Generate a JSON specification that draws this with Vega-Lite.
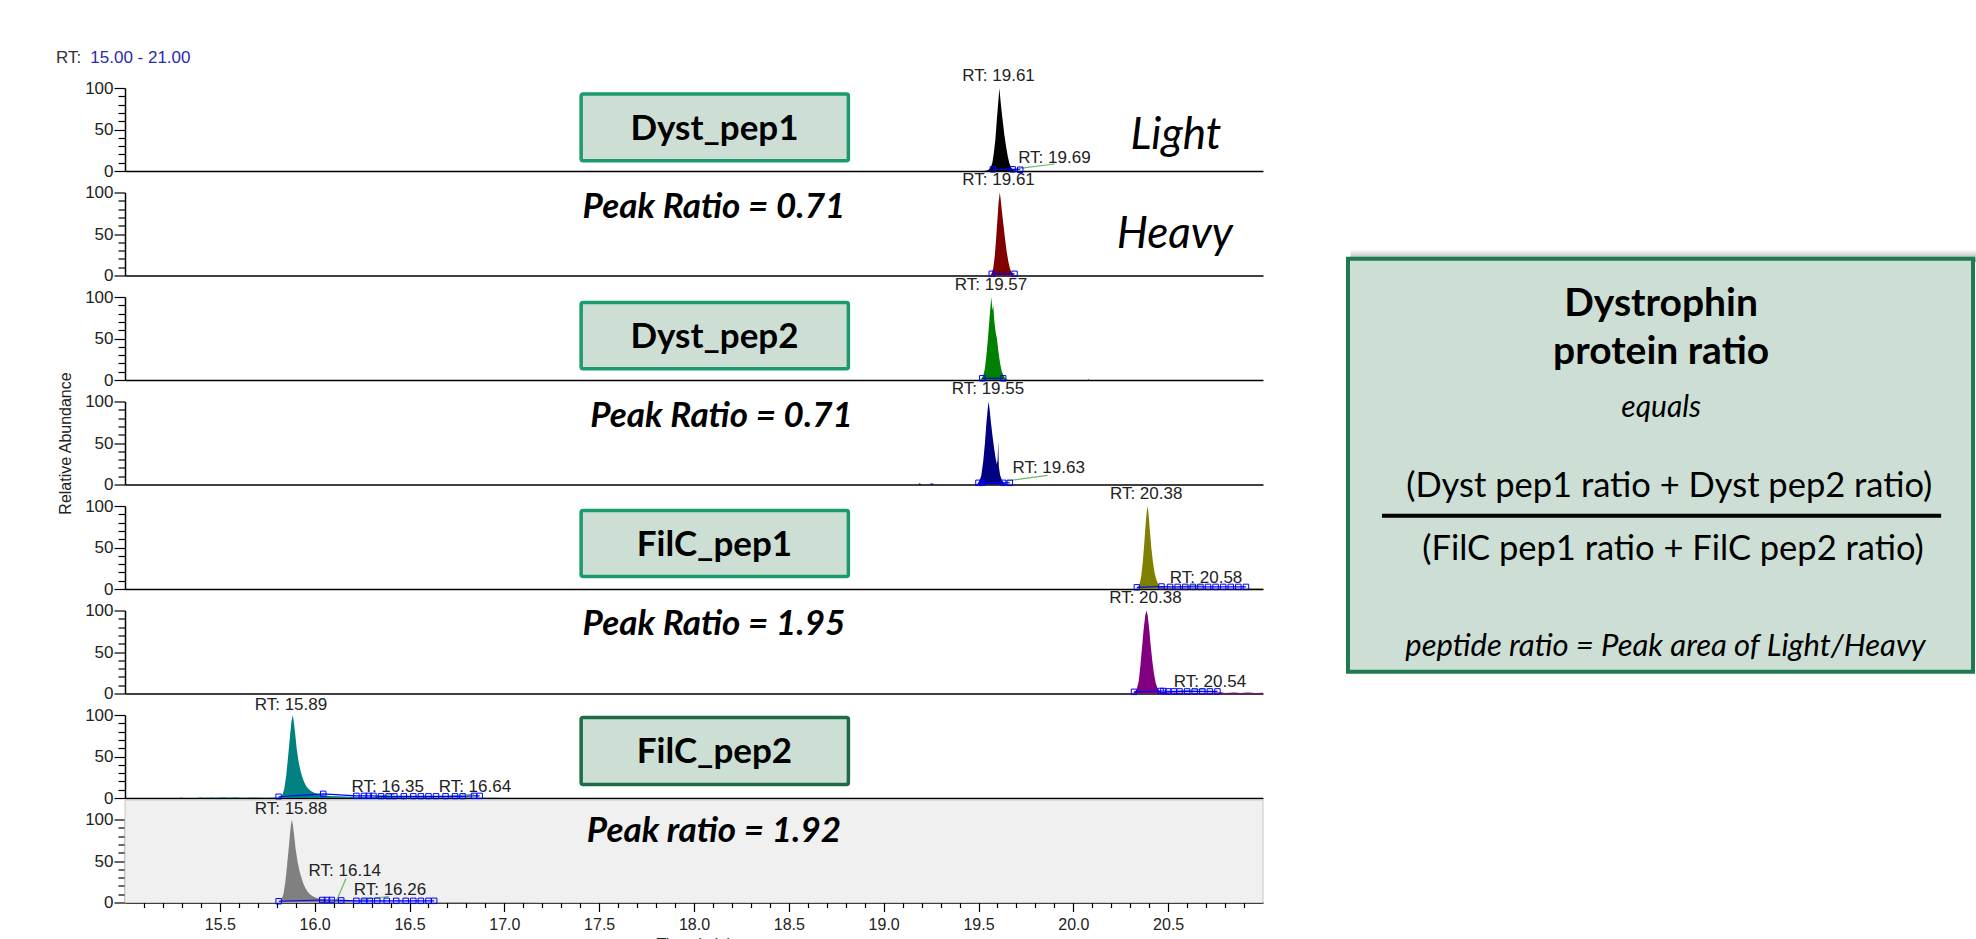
{
"$schema":"https://vega.github.io/schema/vega-lite/v6.json",
"padding":{"left":55,"top":48,"right":0,"bottom":0},
"background":"#ffffff",
"datasets":{
"tr":[
{"p":1,"t":19.53,"a":0},{"p":1,"t":19.545,"a":0.6},{"p":1,"t":19.555,"a":1.8},{"p":1,"t":19.565,"a":4.5},{"p":1,"t":19.573,"a":10},{"p":1,"t":19.581,"a":22},{"p":1,"t":19.589,"a":38},{"p":1,"t":19.595,"a":57},{"p":1,"t":19.601,"a":74},{"p":1,"t":19.606,"a":88},{"p":1,"t":19.61,"a":100},{"p":1,"t":19.614,"a":90},{"p":1,"t":19.62,"a":76},{"p":1,"t":19.628,"a":60},{"p":1,"t":19.636,"a":44},{"p":1,"t":19.645,"a":30},{"p":1,"t":19.654,"a":18},{"p":1,"t":19.662,"a":10},{"p":1,"t":19.67,"a":5},{"p":1,"t":19.678,"a":2},{"p":1,"t":19.686,"a":0.8},{"p":1,"t":19.695,"a":0.3},{"p":1,"t":19.7,"a":0.6},{"p":1,"t":19.705,"a":0},
{"p":2,"t":19.56,"a":0},{"p":2,"t":19.57,"a":2.5},{"p":2,"t":19.578,"a":9},{"p":2,"t":19.586,"a":24},{"p":2,"t":19.593,"a":45},{"p":2,"t":19.6,"a":68},{"p":2,"t":19.606,"a":88},{"p":2,"t":19.612,"a":100},{"p":2,"t":19.617,"a":92},{"p":2,"t":19.623,"a":78},{"p":2,"t":19.631,"a":62},{"p":2,"t":19.64,"a":44},{"p":2,"t":19.649,"a":28},{"p":2,"t":19.658,"a":16},{"p":2,"t":19.666,"a":8},{"p":2,"t":19.674,"a":4},{"p":2,"t":19.682,"a":1.5},{"p":2,"t":19.69,"a":0.5},{"p":2,"t":19.7,"a":0},
{"p":3,"t":19.505,"a":0},{"p":3,"t":19.515,"a":1.5},{"p":3,"t":19.525,"a":5},{"p":3,"t":19.533,"a":13},{"p":3,"t":19.541,"a":28},{"p":3,"t":19.549,"a":48},{"p":3,"t":19.556,"a":68},{"p":3,"t":19.562,"a":86},{"p":3,"t":19.568,"a":100},{"p":3,"t":19.573,"a":84},{"p":3,"t":19.578,"a":90},{"p":3,"t":19.583,"a":72},{"p":3,"t":19.59,"a":58},{"p":3,"t":19.597,"a":50},{"p":3,"t":19.605,"a":34},{"p":3,"t":19.614,"a":20},{"p":3,"t":19.623,"a":10},{"p":3,"t":19.632,"a":5},{"p":3,"t":19.641,"a":2},{"p":3,"t":19.65,"a":0.5},{"p":3,"t":19.66,"a":0},{"p":3,"t":20.076,"a":0},{"p":3,"t":20.08,"a":1.5},{"p":3,"t":20.084,"a":0},
{"p":4,"t":19.18,"a":0},{"p":4,"t":19.19,"a":1.5},{"p":4,"t":19.2,"a":0},{"p":4,"t":19.245,"a":0},{"p":4,"t":19.25,"a":2},{"p":4,"t":19.255,"a":0.5},{"p":4,"t":19.26,"a":1.5},{"p":4,"t":19.265,"a":0},{"p":4,"t":19.485,"a":0},{"p":4,"t":19.495,"a":1},{"p":4,"t":19.505,"a":4},{"p":4,"t":19.515,"a":11},{"p":4,"t":19.525,"a":28},{"p":4,"t":19.534,"a":50},{"p":4,"t":19.542,"a":75},{"p":4,"t":19.549,"a":92},{"p":4,"t":19.553,"a":100},{"p":4,"t":19.558,"a":92},{"p":4,"t":19.565,"a":76},{"p":4,"t":19.573,"a":60},{"p":4,"t":19.582,"a":44},{"p":4,"t":19.59,"a":32},{"p":4,"t":19.597,"a":24},{"p":4,"t":19.601,"a":30},{"p":4,"t":19.604,"a":52},{"p":4,"t":19.607,"a":22},{"p":4,"t":19.614,"a":11},{"p":4,"t":19.624,"a":5},{"p":4,"t":19.634,"a":2},{"p":4,"t":19.644,"a":0.8},{"p":4,"t":19.655,"a":0},
{"p":5,"t":20.325,"a":0},{"p":5,"t":20.338,"a":1.5},{"p":5,"t":20.348,"a":5},{"p":5,"t":20.357,"a":14},{"p":5,"t":20.366,"a":32},{"p":5,"t":20.374,"a":55},{"p":5,"t":20.381,"a":78},{"p":5,"t":20.387,"a":93},{"p":5,"t":20.392,"a":100},{"p":5,"t":20.397,"a":90},{"p":5,"t":20.403,"a":72},{"p":5,"t":20.411,"a":50},{"p":5,"t":20.42,"a":32},{"p":5,"t":20.429,"a":19},{"p":5,"t":20.438,"a":11},{"p":5,"t":20.447,"a":6},{"p":5,"t":20.458,"a":3},{"p":5,"t":20.48,"a":2},{"p":5,"t":20.55,"a":1.5},{"p":5,"t":20.65,"a":1.2},{"p":5,"t":20.75,"a":1},{"p":5,"t":20.85,"a":0.8},{"p":5,"t":20.95,"a":0.6},{"p":5,"t":21,"a":0.5},
{"p":6,"t":20.305,"a":0},{"p":6,"t":20.322,"a":1.5},{"p":6,"t":20.334,"a":5},{"p":6,"t":20.344,"a":14},{"p":6,"t":20.353,"a":32},{"p":6,"t":20.362,"a":55},{"p":6,"t":20.371,"a":78},{"p":6,"t":20.379,"a":94},{"p":6,"t":20.386,"a":100},{"p":6,"t":20.392,"a":94},{"p":6,"t":20.399,"a":80},{"p":6,"t":20.407,"a":60},{"p":6,"t":20.416,"a":40},{"p":6,"t":20.425,"a":24},{"p":6,"t":20.434,"a":13},{"p":6,"t":20.443,"a":7},{"p":6,"t":20.452,"a":3.5},{"p":6,"t":20.465,"a":2},{"p":6,"t":20.5,"a":1.5},{"p":6,"t":20.6,"a":1},{"p":6,"t":20.7,"a":0.8},{"p":6,"t":20.78,"a":1.5},{"p":6,"t":20.8,"a":0.6},{"p":6,"t":20.85,"a":1.2},{"p":6,"t":20.88,"a":0.5},{"p":6,"t":20.92,"a":1.2},{"p":6,"t":20.96,"a":0.5},{"p":6,"t":21,"a":0.8},
{"p":7,"t":15.28,"a":0},{"p":7,"t":15.3,"a":0.6},{"p":7,"t":15.31,"a":0},{"p":7,"t":15.38,"a":0},{"p":7,"t":15.4,"a":0.8},{"p":7,"t":15.41,"a":0.2},{"p":7,"t":15.46,"a":0.6},{"p":7,"t":15.48,"a":0.2},{"p":7,"t":15.52,"a":0.9},{"p":7,"t":15.55,"a":0.4},{"p":7,"t":15.58,"a":0.8},{"p":7,"t":15.62,"a":0.3},{"p":7,"t":15.68,"a":0.6},{"p":7,"t":15.74,"a":0.4},{"p":7,"t":15.8,"a":0.5},{"p":7,"t":15.82,"a":1.5},{"p":7,"t":15.83,"a":4},{"p":7,"t":15.84,"a":11},{"p":7,"t":15.85,"a":27},{"p":7,"t":15.86,"a":50},{"p":7,"t":15.87,"a":75},{"p":7,"t":15.878,"a":93},{"p":7,"t":15.885,"a":100},{"p":7,"t":15.89,"a":92},{"p":7,"t":15.897,"a":78},{"p":7,"t":15.905,"a":60},{"p":7,"t":15.915,"a":44},{"p":7,"t":15.925,"a":33},{"p":7,"t":15.935,"a":25},{"p":7,"t":15.945,"a":19},{"p":7,"t":15.955,"a":14.5},{"p":7,"t":15.965,"a":11.5},{"p":7,"t":15.98,"a":8.5},{"p":7,"t":16,"a":6},{"p":7,"t":16.02,"a":4.5},{"p":7,"t":16.05,"a":3.2},{"p":7,"t":16.08,"a":2.5},{"p":7,"t":16.12,"a":2},{"p":7,"t":16.2,"a":1.6},{"p":7,"t":16.3,"a":1.3},{"p":7,"t":16.4,"a":1.1},{"p":7,"t":16.5,"a":1},{"p":7,"t":16.6,"a":0.8},{"p":7,"t":16.7,"a":0.7},{"p":7,"t":16.8,"a":0.5},{"p":7,"t":16.9,"a":0.4},{"p":7,"t":16.96,"a":0.3},{"p":7,"t":17,"a":0},
{"p":8,"t":15.8,"a":0},{"p":8,"t":15.815,"a":1},{"p":8,"t":15.825,"a":3.5},{"p":8,"t":15.835,"a":10},{"p":8,"t":15.845,"a":24},{"p":8,"t":15.855,"a":46},{"p":8,"t":15.865,"a":70},{"p":8,"t":15.873,"a":90},{"p":8,"t":15.879,"a":100},{"p":8,"t":15.885,"a":94},{"p":8,"t":15.892,"a":80},{"p":8,"t":15.9,"a":64},{"p":8,"t":15.91,"a":49},{"p":8,"t":15.92,"a":38},{"p":8,"t":15.93,"a":30},{"p":8,"t":15.94,"a":23},{"p":8,"t":15.95,"a":18},{"p":8,"t":15.96,"a":14},{"p":8,"t":15.975,"a":10},{"p":8,"t":15.99,"a":7.5},{"p":8,"t":16.01,"a":5.5},{"p":8,"t":16.04,"a":4},{"p":8,"t":16.07,"a":3},{"p":8,"t":16.1,"a":2.4},{"p":8,"t":16.15,"a":1.8},{"p":8,"t":16.2,"a":1.5},{"p":8,"t":16.3,"a":1.2},{"p":8,"t":16.4,"a":1},{"p":8,"t":16.5,"a":0.9},{"p":8,"t":16.6,"a":0.7},{"p":8,"t":16.7,"a":0.6},{"p":8,"t":16.8,"a":0.5},{"p":8,"t":16.9,"a":0.4},{"p":8,"t":17,"a":0.3},{"p":8,"t":17.1,"a":0.2},{"p":8,"t":17.2,"a":0}
],
"mk":[
{"p":1,"t":19.576,"a":2},{"p":1,"t":19.68,"a":2},{"p":1,"t":19.72,"a":1.5},
{"p":2,"t":19.57,"a":2},{"p":2,"t":19.69,"a":2},
{"p":3,"t":19.52,"a":2},{"p":3,"t":19.63,"a":2},
{"p":4,"t":19.5,"a":2},{"p":4,"t":19.52,"a":2},{"p":4,"t":19.63,"a":2},{"p":4,"t":19.665,"a":2},
{"p":5,"t":20.335,"a":2},{"p":5,"t":20.465,"a":3},{"p":5,"t":20.51,"a":2.5},{"p":5,"t":20.55,"a":2.5},{"p":5,"t":20.59,"a":2.5},{"p":5,"t":20.63,"a":2.5},{"p":5,"t":20.67,"a":2.5},{"p":5,"t":20.71,"a":2.5},{"p":5,"t":20.75,"a":2.5},{"p":5,"t":20.79,"a":2.5},{"p":5,"t":20.83,"a":2.5},{"p":5,"t":20.87,"a":2.5},{"p":5,"t":20.91,"a":2.5},
{"p":6,"t":20.32,"a":2},{"p":6,"t":20.46,"a":3},{"p":6,"t":20.475,"a":3},{"p":6,"t":20.5,"a":2.5},{"p":6,"t":20.53,"a":2.5},{"p":6,"t":20.56,"a":2.5},{"p":6,"t":20.6,"a":2.5},{"p":6,"t":20.64,"a":2.5},{"p":6,"t":20.68,"a":2.5},{"p":6,"t":20.72,"a":2.5},{"p":6,"t":20.76,"a":2.5},
{"p":7,"t":15.81,"a":1.5},{"p":7,"t":16.045,"a":5},{"p":7,"t":16.22,"a":2.5},{"p":7,"t":16.26,"a":2.5},{"p":7,"t":16.285,"a":2.5},{"p":7,"t":16.31,"a":2.5},{"p":7,"t":16.35,"a":2},{"p":7,"t":16.39,"a":2},{"p":7,"t":16.42,"a":2},{"p":7,"t":16.47,"a":2},{"p":7,"t":16.52,"a":2},{"p":7,"t":16.56,"a":2},{"p":7,"t":16.6,"a":2},{"p":7,"t":16.64,"a":2},{"p":7,"t":16.69,"a":2},{"p":7,"t":16.74,"a":2},{"p":7,"t":16.78,"a":2},{"p":7,"t":16.84,"a":2.5},{"p":7,"t":16.87,"a":2.5},
{"p":8,"t":15.81,"a":1.5},{"p":8,"t":16.04,"a":3},{"p":8,"t":16.065,"a":3},{"p":8,"t":16.09,"a":3},{"p":8,"t":16.14,"a":2.5},{"p":8,"t":16.22,"a":2},{"p":8,"t":16.26,"a":2},{"p":8,"t":16.29,"a":2},{"p":8,"t":16.33,"a":2},{"p":8,"t":16.38,"a":2},{"p":8,"t":16.43,"a":2},{"p":8,"t":16.48,"a":2},{"p":8,"t":16.52,"a":2},{"p":8,"t":16.56,"a":2},{"p":8,"t":16.6,"a":2},{"p":8,"t":16.63,"a":2}
],
"gl":[
{"p":1,"g":1,"t":19.69,"a":2.4},{"p":1,"g":1,"t":19.9,"a":8.4},
{"p":4,"g":1,"t":19.64,"a":4},{"p":4,"g":1,"t":19.865,"a":11},
{"p":5,"g":1,"t":20.55,"a":2.5},{"p":5,"g":1,"t":20.68,"a":5},
{"p":6,"g":1,"t":20.55,"a":2.5},{"p":6,"g":1,"t":20.7,"a":5.5},
{"p":7,"g":1,"t":16.33,"a":2},{"p":7,"g":1,"t":16.42,"a":4.6},
{"p":7,"g":2,"t":16.7,"a":2},{"p":7,"g":2,"t":16.84,"a":4.6},
{"p":8,"g":1,"t":16.117,"a":3},{"p":8,"g":1,"t":16.165,"a":29},
{"p":8,"g":2,"t":16.245,"a":3.5},{"p":8,"g":2,"t":16.39,"a":7}
],
"rt":[
{"p":1,"t":19.606,"a":108.5,"label":"RT: 19.61"},
{"p":1,"t":19.9,"a":10,"label":"RT: 19.69"},
{"p":2,"t":19.606,"a":108.5,"label":"RT: 19.61"},
{"p":3,"t":19.566,"a":108.5,"label":"RT: 19.57"},
{"p":4,"t":19.55,"a":108.5,"label":"RT: 19.55"},
{"p":4,"t":19.87,"a":13.5,"label":"RT: 19.63"},
{"p":5,"t":20.384,"a":108.5,"label":"RT: 20.38"},
{"p":5,"t":20.7,"a":7.7,"label":"RT: 20.58"},
{"p":6,"t":20.38,"a":108.5,"label":"RT: 20.38"},
{"p":6,"t":20.72,"a":8.3,"label":"RT: 20.54"},
{"p":7,"t":15.875,"a":106.5,"label":"RT: 15.89"},
{"p":7,"t":16.385,"a":7.8,"label":"RT: 16.35"},
{"p":7,"t":16.845,"a":7.8,"label":"RT: 16.64"},
{"p":8,"t":15.875,"a":107,"label":"RT: 15.88"},
{"p":8,"t":16.159,"a":32.5,"label":"RT: 16.14"},
{"p":8,"t":16.397,"a":9.3,"label":"RT: 16.26"}
],
"bx":[
{"p":1,"t":17.405,"t2":18.814,"a":12.4,"a2":92.8},
{"p":3,"t":17.405,"t2":18.814,"a":13.7,"a2":93.3},
{"p":5,"t":17.405,"t2":18.814,"a":15,"a2":94.5},
{"p":7,"t":17.405,"t2":18.814,"a":16.3,"a2":97}
],
"an":[
{"p":1,"k":"box","t":18.108,"a":37.6,"label":"Dyst_pep1"},
{"p":3,"k":"box","t":18.108,"a":38.5,"label":"Dyst_pep2"},
{"p":5,"k":"box","t":18.108,"a":39.7,"label":"FilC_pep1"},
{"p":7,"k":"box","t":18.108,"a":41.6,"label":"FilC_pep2"},
{"p":2,"k":"ratio","t":18.105,"a":68.8,"label":"Peak Ratio = 0.71"},
{"p":4,"k":"ratio","t":18.145,"a":68.7,"label":"Peak Ratio = 0.71"},
{"p":6,"k":"ratio","t":18.105,"a":70,"label":"Peak Ratio = 1.95"},
{"p":8,"k":"ratio","t":18.105,"a":72.5,"label":"Peak ratio  = 1.92"},
{"p":1,"k":"lh","t":20.541,"a":26.5,"label":"Light"},
{"p":2,"k":"lh","t":20.535,"a":32.6,"label":"Heavy"}
],
"hd":[
{"t":14.636,"a":130.5,"label":"RT:"},
{"t":14.817,"a":130.5,"label":"15.00 - 21.00"}
],
"bg":[{"t":15,"t2":21,"a":0,"a2":123.5}],
"fb":[
{"k":"shadow","t":0.4,"t2":100.6,"a":70.5,"a2":72.6},
{"k":"box","t":0,"t2":100,"a":1.07,"a2":71.07}
],
"ru":[{"t":5.44,"t2":94.9,"a":27.51}],
"ft":[
{"k":"ti","t":50.1,"a":61.3,"label":"Dystrophin"},
{"k":"ti","t":50.1,"a":53.15,"label":"protein ratio"},
{"k":"eq","t":50.1,"a":44.29,"label":"equals"},
{"k":"fr","t":51.4,"a":30.73,"label":"(Dyst pep1 ratio + Dyst pep2 ratio)"},
{"k":"fr","t":52,"a":20.05,"label":"(FilC pep1 ratio + FilC pep2 ratio)"},
{"k":"no","t":50.8,"a":3.8,"label":"peptide ratio =  Peak area of Light/Heavy"}
]
},
"hconcat":[
{"vconcat":[
{"width":1138,"height":83,
"encoding":{"x":{"field":"t","type":"quantitative","scale":{"domain":[15,21],"nice":false,"zero":false},"axis":{"labels":false,"ticks":false,"title":null}},
"y":{"field":"a","type":"quantitative","scale":{"domain":[0,100],"nice":false,"zero":false},"axis":{"values":[0,10,20,30,40,50,60,70,80,90,100],"labelExpr":"datum.value % 50 === 0 ? datum.label : ''","tickSize":{"condition":{"test":"datum.value % 50 === 0","value":11},"value":7},"title":null}}},
"layer":[
{"data":{"name":"tr"},"transform":[{"filter":"datum.p===1"}],"mark":{"type":"area","color":"#000000","interpolate":"linear"},"encoding":{}},
{"data":{"name":"gl"},"transform":[{"filter":"datum.p===1"}],"mark":{"type":"line","color":"#66bb66","strokeWidth":1.2},"encoding":{"detail":{"field":"g","type":"nominal"}}},
{"data":{"name":"mk"},"transform":[{"filter":"datum.p===1"}],"mark":{"type":"line","color":"#0000ff","strokeWidth":1.2},"encoding":{}},
{"data":{"name":"mk"},"transform":[{"filter":"datum.p===1"}],"mark":{"type":"point","shape":"square","filled":false,"color":"#0000ff","strokeWidth":1,"size":30,"opacity":1},"encoding":{}},
{"data":{"name":"rt"},"transform":[{"filter":"datum.p===1"}],"mark":{"type":"text","font":"Liberation Sans","fontSize":17,"color":"#222222","align":"center","baseline":"alphabetic"},"encoding":{"text":{"field":"label"}}},
{"data":{"name":"bx"},"transform":[{"filter":"datum.p===1"}],"mark":{"type":"rect","fill":"#cddfd5","stroke":"#1a9b6a","strokeWidth":3.5,"cornerRadius":2},"encoding":{"x2":{"field":"t2"},"y2":{"field":"a2"}}},
{"data":{"name":"an"},"transform":[{"filter":"datum.p===1 && datum.k==='box'"}],"mark":{"type":"text","font":"Lato","fontWeight":"bold","fontSize":35,"color":"#000000","align":"center","baseline":"alphabetic"},"encoding":{"text":{"field":"label"}}},
{"data":{"name":"an"},"transform":[{"filter":"datum.p===1 && datum.k==='lh'"}],"mark":{"type":"text","font":"Lato","fontStyle":"italic","fontSize":44,"color":"#000000","align":"center","baseline":"alphabetic"},"encoding":{"text":{"field":"label"}}},
{"data":{"name":"hd"},"mark":{"type":"text","font":"Liberation Sans","fontSize":17,"align":"left","baseline":"alphabetic"},"encoding":{"text":{"field":"label"},"color":{"condition":{"test":"datum.label==='RT:'","value":"#333333"},"value":"#2a2ab4"}}}
]},
{"width":1138,"height":83,
"encoding":{"x":{"field":"t","type":"quantitative","scale":{"domain":[15,21],"nice":false,"zero":false},"axis":{"labels":false,"ticks":false,"title":null}},
"y":{"field":"a","type":"quantitative","scale":{"domain":[0,100],"nice":false,"zero":false},"axis":{"values":[0,10,20,30,40,50,60,70,80,90,100],"labelExpr":"datum.value % 50 === 0 ? datum.label : ''","tickSize":{"condition":{"test":"datum.value % 50 === 0","value":11},"value":7},"title":null}}},
"layer":[
{"data":{"name":"tr"},"transform":[{"filter":"datum.p===2"}],"mark":{"type":"area","color":"#800000","interpolate":"linear"},"encoding":{}},
{"data":{"name":"mk"},"transform":[{"filter":"datum.p===2"}],"mark":{"type":"line","color":"#0000ff","strokeWidth":1.2},"encoding":{}},
{"data":{"name":"mk"},"transform":[{"filter":"datum.p===2"}],"mark":{"type":"point","shape":"square","filled":false,"color":"#0000ff","strokeWidth":1,"size":30,"opacity":1},"encoding":{}},
{"data":{"name":"rt"},"transform":[{"filter":"datum.p===2"}],"mark":{"type":"text","font":"Liberation Sans","fontSize":17,"color":"#222222","align":"center","baseline":"alphabetic"},"encoding":{"text":{"field":"label"}}},
{"data":{"name":"an"},"transform":[{"filter":"datum.p===2 && datum.k==='ratio'"}],"mark":{"type":"text","font":"Lato","fontWeight":"bold","fontStyle":"italic","fontSize":35,"color":"#000000","align":"center","baseline":"alphabetic"},"encoding":{"text":{"field":"label"}}},
{"data":{"name":"an"},"transform":[{"filter":"datum.p===2 && datum.k==='lh'"}],"mark":{"type":"text","font":"Lato","fontStyle":"italic","fontSize":44,"color":"#000000","align":"center","baseline":"alphabetic"},"encoding":{"text":{"field":"label"}}}
]},
{"width":1138,"height":83,
"encoding":{"x":{"field":"t","type":"quantitative","scale":{"domain":[15,21],"nice":false,"zero":false},"axis":{"labels":false,"ticks":false,"title":null}},
"y":{"field":"a","type":"quantitative","scale":{"domain":[0,100],"nice":false,"zero":false},"axis":{"values":[0,10,20,30,40,50,60,70,80,90,100],"labelExpr":"datum.value % 50 === 0 ? datum.label : ''","tickSize":{"condition":{"test":"datum.value % 50 === 0","value":11},"value":7},"title":null}}},
"layer":[
{"data":{"name":"tr"},"transform":[{"filter":"datum.p===3"}],"mark":{"type":"area","color":"#008000","interpolate":"linear"},"encoding":{}},
{"data":{"name":"mk"},"transform":[{"filter":"datum.p===3"}],"mark":{"type":"line","color":"#0000ff","strokeWidth":1.2},"encoding":{}},
{"data":{"name":"mk"},"transform":[{"filter":"datum.p===3"}],"mark":{"type":"point","shape":"square","filled":false,"color":"#0000ff","strokeWidth":1,"size":30,"opacity":1},"encoding":{}},
{"data":{"name":"rt"},"transform":[{"filter":"datum.p===3"}],"mark":{"type":"text","font":"Liberation Sans","fontSize":17,"color":"#222222","align":"center","baseline":"alphabetic"},"encoding":{"text":{"field":"label"}}},
{"data":{"name":"bx"},"transform":[{"filter":"datum.p===3"}],"mark":{"type":"rect","fill":"#cddfd5","stroke":"#1a9b6a","strokeWidth":3.5,"cornerRadius":2},"encoding":{"x2":{"field":"t2"},"y2":{"field":"a2"}}},
{"data":{"name":"an"},"transform":[{"filter":"datum.p===3 && datum.k==='box'"}],"mark":{"type":"text","font":"Lato","fontWeight":"bold","fontSize":35,"color":"#000000","align":"center","baseline":"alphabetic"},"encoding":{"text":{"field":"label"}}}
]},
{"width":1138,"height":83,
"encoding":{"x":{"field":"t","type":"quantitative","scale":{"domain":[15,21],"nice":false,"zero":false},"axis":{"labels":false,"ticks":false,"title":null}},
"y":{"field":"a","type":"quantitative","scale":{"domain":[0,100],"nice":false,"zero":false},"axis":{"values":[0,10,20,30,40,50,60,70,80,90,100],"labelExpr":"datum.value % 50 === 0 ? datum.label : ''","tickSize":{"condition":{"test":"datum.value % 50 === 0","value":11},"value":7},"title":"Relative Abundance","titlePadding":11}}},
"layer":[
{"data":{"name":"tr"},"transform":[{"filter":"datum.p===4"}],"mark":{"type":"area","color":"#000080","interpolate":"linear"},"encoding":{}},
{"data":{"name":"gl"},"transform":[{"filter":"datum.p===4"}],"mark":{"type":"line","color":"#66bb66","strokeWidth":1.2},"encoding":{"detail":{"field":"g","type":"nominal"}}},
{"data":{"name":"mk"},"transform":[{"filter":"datum.p===4"}],"mark":{"type":"line","color":"#0000ff","strokeWidth":1.2},"encoding":{}},
{"data":{"name":"mk"},"transform":[{"filter":"datum.p===4"}],"mark":{"type":"point","shape":"square","filled":false,"color":"#0000ff","strokeWidth":1,"size":30,"opacity":1},"encoding":{}},
{"data":{"name":"rt"},"transform":[{"filter":"datum.p===4"}],"mark":{"type":"text","font":"Liberation Sans","fontSize":17,"color":"#222222","align":"center","baseline":"alphabetic"},"encoding":{"text":{"field":"label"}}},
{"data":{"name":"an"},"transform":[{"filter":"datum.p===4 && datum.k==='ratio'"}],"mark":{"type":"text","font":"Lato","fontWeight":"bold","fontStyle":"italic","fontSize":35,"color":"#000000","align":"center","baseline":"alphabetic"},"encoding":{"text":{"field":"label"}}}
]},
{"width":1138,"height":83,
"encoding":{"x":{"field":"t","type":"quantitative","scale":{"domain":[15,21],"nice":false,"zero":false},"axis":{"labels":false,"ticks":false,"title":null}},
"y":{"field":"a","type":"quantitative","scale":{"domain":[0,100],"nice":false,"zero":false},"axis":{"values":[0,10,20,30,40,50,60,70,80,90,100],"labelExpr":"datum.value % 50 === 0 ? datum.label : ''","tickSize":{"condition":{"test":"datum.value % 50 === 0","value":11},"value":7},"title":null}}},
"layer":[
{"data":{"name":"tr"},"transform":[{"filter":"datum.p===5"}],"mark":{"type":"area","color":"#808000","interpolate":"linear"},"encoding":{}},
{"data":{"name":"gl"},"transform":[{"filter":"datum.p===5"}],"mark":{"type":"line","color":"#66bb66","strokeWidth":1.2},"encoding":{"detail":{"field":"g","type":"nominal"}}},
{"data":{"name":"mk"},"transform":[{"filter":"datum.p===5"}],"mark":{"type":"line","color":"#0000ff","strokeWidth":1.2},"encoding":{}},
{"data":{"name":"mk"},"transform":[{"filter":"datum.p===5"}],"mark":{"type":"point","shape":"square","filled":false,"color":"#0000ff","strokeWidth":1,"size":30,"opacity":1},"encoding":{}},
{"data":{"name":"rt"},"transform":[{"filter":"datum.p===5"}],"mark":{"type":"text","font":"Liberation Sans","fontSize":17,"color":"#222222","align":"center","baseline":"alphabetic"},"encoding":{"text":{"field":"label"}}},
{"data":{"name":"bx"},"transform":[{"filter":"datum.p===5"}],"mark":{"type":"rect","fill":"#cddfd5","stroke":"#1a9b6a","strokeWidth":3.5,"cornerRadius":2},"encoding":{"x2":{"field":"t2"},"y2":{"field":"a2"}}},
{"data":{"name":"an"},"transform":[{"filter":"datum.p===5 && datum.k==='box'"}],"mark":{"type":"text","font":"Lato","fontWeight":"bold","fontSize":35,"color":"#000000","align":"center","baseline":"alphabetic"},"encoding":{"text":{"field":"label"}}}
]},
{"width":1138,"height":83,
"encoding":{"x":{"field":"t","type":"quantitative","scale":{"domain":[15,21],"nice":false,"zero":false},"axis":{"labels":false,"ticks":false,"title":null}},
"y":{"field":"a","type":"quantitative","scale":{"domain":[0,100],"nice":false,"zero":false},"axis":{"values":[0,10,20,30,40,50,60,70,80,90,100],"labelExpr":"datum.value % 50 === 0 ? datum.label : ''","tickSize":{"condition":{"test":"datum.value % 50 === 0","value":11},"value":7},"title":null}}},
"layer":[
{"data":{"name":"tr"},"transform":[{"filter":"datum.p===6"}],"mark":{"type":"area","color":"#800080","interpolate":"linear"},"encoding":{}},
{"data":{"name":"gl"},"transform":[{"filter":"datum.p===6"}],"mark":{"type":"line","color":"#66bb66","strokeWidth":1.2},"encoding":{"detail":{"field":"g","type":"nominal"}}},
{"data":{"name":"mk"},"transform":[{"filter":"datum.p===6"}],"mark":{"type":"line","color":"#0000ff","strokeWidth":1.2},"encoding":{}},
{"data":{"name":"mk"},"transform":[{"filter":"datum.p===6"}],"mark":{"type":"point","shape":"square","filled":false,"color":"#0000ff","strokeWidth":1,"size":30,"opacity":1},"encoding":{}},
{"data":{"name":"rt"},"transform":[{"filter":"datum.p===6"}],"mark":{"type":"text","font":"Liberation Sans","fontSize":17,"color":"#222222","align":"center","baseline":"alphabetic"},"encoding":{"text":{"field":"label"}}},
{"data":{"name":"an"},"transform":[{"filter":"datum.p===6 && datum.k==='ratio'"}],"mark":{"type":"text","font":"Lato","fontWeight":"bold","fontStyle":"italic","fontSize":35,"color":"#000000","align":"center","baseline":"alphabetic"},"encoding":{"text":{"field":"label"}}}
]},
{"width":1138,"height":83,
"encoding":{"x":{"field":"t","type":"quantitative","scale":{"domain":[15,21],"nice":false,"zero":false},"axis":{"labels":false,"ticks":false,"title":null}},
"y":{"field":"a","type":"quantitative","scale":{"domain":[0,100],"nice":false,"zero":false},"axis":{"values":[0,10,20,30,40,50,60,70,80,90,100],"labelExpr":"datum.value % 50 === 0 ? datum.label : ''","tickSize":{"condition":{"test":"datum.value % 50 === 0","value":11},"value":7},"title":null}}},
"layer":[
{"data":{"name":"tr"},"transform":[{"filter":"datum.p===7"}],"mark":{"type":"area","color":"#008080","interpolate":"linear"},"encoding":{}},
{"data":{"name":"gl"},"transform":[{"filter":"datum.p===7"}],"mark":{"type":"line","color":"#66bb66","strokeWidth":1.2},"encoding":{"detail":{"field":"g","type":"nominal"}}},
{"data":{"name":"mk"},"transform":[{"filter":"datum.p===7"}],"mark":{"type":"line","color":"#0000ff","strokeWidth":1.2},"encoding":{}},
{"data":{"name":"mk"},"transform":[{"filter":"datum.p===7"}],"mark":{"type":"point","shape":"square","filled":false,"color":"#0000ff","strokeWidth":1,"size":30,"opacity":1},"encoding":{}},
{"data":{"name":"rt"},"transform":[{"filter":"datum.p===7"}],"mark":{"type":"text","font":"Liberation Sans","fontSize":17,"color":"#222222","align":"center","baseline":"alphabetic"},"encoding":{"text":{"field":"label"}}},
{"data":{"name":"bx"},"transform":[{"filter":"datum.p===7"}],"mark":{"type":"rect","fill":"#cddfd5","stroke":"#1e6b48","strokeWidth":3.5,"cornerRadius":2},"encoding":{"x2":{"field":"t2"},"y2":{"field":"a2"}}},
{"data":{"name":"an"},"transform":[{"filter":"datum.p===7 && datum.k==='box'"}],"mark":{"type":"text","font":"Lato","fontWeight":"bold","fontSize":35,"color":"#000000","align":"center","baseline":"alphabetic"},"encoding":{"text":{"field":"label"}}}
]},
{"width":1138,"height":83,
"encoding":{"x":{"field":"t","type":"quantitative","scale":{"domain":[15,21],"nice":false,"zero":false},"axis":{"values":[15.1,15.2,15.3,15.4,15.5,15.6,15.7,15.8,15.9,16,16.1,16.2,16.3,16.4,16.5,16.6,16.7,16.8,16.9,17,17.1,17.2,17.3,17.4,17.5,17.6,17.7,17.8,17.9,18,18.1,18.2,18.3,18.4,18.5,18.6,18.7,18.8,18.9,19,19.1,19.2,19.3,19.4,19.5,19.6,19.7,19.8,19.9,20,20.1,20.2,20.3,20.4,20.5,20.6,20.7,20.8,20.9],"format":".1f","labelExpr":"abs(datum.value*2-round(datum.value*2))<0.01 ? datum.label : ''","tickSize":{"condition":{"test":"abs(datum.value*2-round(datum.value*2))<0.01","value":9},"value":5},"title":"Time (min)","titlePadding":4}},
"y":{"field":"a","type":"quantitative","scale":{"domain":[0,100],"nice":false,"zero":false},"axis":{"values":[0,10,20,30,40,50,60,70,80,90,100],"labelExpr":"datum.value % 50 === 0 ? datum.label : ''","tickSize":{"condition":{"test":"datum.value % 50 === 0","value":11},"value":7},"title":null}}},
"layer":[
{"data":{"name":"bg"},"mark":{"type":"rect","fill":"#f0f0f0","stroke":"#c8c8c8","strokeWidth":1},"encoding":{"x2":{"field":"t2"},"y2":{"field":"a2"}}},
{"data":{"name":"tr"},"transform":[{"filter":"datum.p===8"}],"mark":{"type":"area","color":"#808080","interpolate":"linear"},"encoding":{}},
{"data":{"name":"gl"},"transform":[{"filter":"datum.p===8"}],"mark":{"type":"line","color":"#66bb66","strokeWidth":1.2},"encoding":{"detail":{"field":"g","type":"nominal"}}},
{"data":{"name":"mk"},"transform":[{"filter":"datum.p===8"}],"mark":{"type":"line","color":"#0000ff","strokeWidth":1.2},"encoding":{}},
{"data":{"name":"mk"},"transform":[{"filter":"datum.p===8"}],"mark":{"type":"point","shape":"square","filled":false,"color":"#0000ff","strokeWidth":1,"size":30,"opacity":1},"encoding":{}},
{"data":{"name":"rt"},"transform":[{"filter":"datum.p===8"}],"mark":{"type":"text","font":"Liberation Sans","fontSize":17,"color":"#222222","align":"center","baseline":"alphabetic"},"encoding":{"text":{"field":"label"}}},
{"data":{"name":"an"},"transform":[{"filter":"datum.p===8 && datum.k==='ratio'"}],"mark":{"type":"text","font":"Lato","fontWeight":"bold","fontStyle":"italic","fontSize":35,"color":"#000000","align":"center","baseline":"alphabetic"},"encoding":{"text":{"field":"label"}}}
]}
],"spacing":21.5,"bounds":"flush"},
{"width":625,"height":590,
"encoding":{"x":{"field":"t","type":"quantitative","scale":{"domain":[0,100],"nice":false,"zero":false},"axis":null},
"y":{"field":"a","type":"quantitative","scale":{"domain":[0,100],"nice":false,"zero":false},"axis":null}},
"layer":[
{"data":{"name":"fb"},"transform":[{"filter":"datum.k==='shadow'"}],"mark":{"type":"rect","color":{"gradient":"linear","x1":0,"y1":1,"x2":0,"y2":0,"stops":[{"offset":0,"color":"#9a9a9a"},{"offset":1,"color":"#ffffff"}]}},"encoding":{"x2":{"field":"t2"},"y2":{"field":"a2"}}},
{"data":{"name":"fb"},"transform":[{"filter":"datum.k==='box'"}],"mark":{"type":"rect","fill":"#cddfd5","stroke":"#1f7a4f","strokeWidth":4},"encoding":{"x2":{"field":"t2"},"y2":{"field":"a2"}}},
{"data":{"name":"ru"},"mark":{"type":"rule","color":"#000000","strokeWidth":4},"encoding":{"x2":{"field":"t2"}}},
{"data":{"name":"ft"},"transform":[{"filter":"datum.k==='ti'"}],"mark":{"type":"text","font":"Lato","fontWeight":"bold","fontSize":39,"color":"#000000","align":"center","baseline":"alphabetic"},"encoding":{"text":{"field":"label"}}},
{"data":{"name":"ft"},"transform":[{"filter":"datum.k==='eq'"}],"mark":{"type":"text","font":"Lato","fontStyle":"italic","fontSize":30,"color":"#000000","align":"center","baseline":"alphabetic"},"encoding":{"text":{"field":"label"}}},
{"data":{"name":"ft"},"transform":[{"filter":"datum.k==='fr'"}],"mark":{"type":"text","font":"Lato","fontSize":34.5,"color":"#000000","align":"center","baseline":"alphabetic"},"encoding":{"text":{"field":"label"}}},
{"data":{"name":"ft"},"transform":[{"filter":"datum.k==='no'"}],"mark":{"type":"text","font":"Lato","fontStyle":"italic","fontSize":31,"color":"#000000","align":"center","baseline":"alphabetic"},"encoding":{"text":{"field":"label"}}}
]}
],
"spacing":82,
"config":{
"view":{"stroke":null},
"axis":{"grid":false,"domainColor":"#000000","domainWidth":1.5,"tickColor":"#000000","tickWidth":1.2,"labelFont":"Liberation Sans","labelFontSize":17,"labelColor":"#222222","labelOverlap":false,"labelBound":false,"titleFont":"Liberation Sans","titleFontSize":16,"titleFontWeight":"normal","titleColor":"#222222","zindex":1},
"axisY":{"labelPadding":1},
"axisX":{"labelPadding":5,"labelFontSize":16,"labelFlush":false}
}
}
